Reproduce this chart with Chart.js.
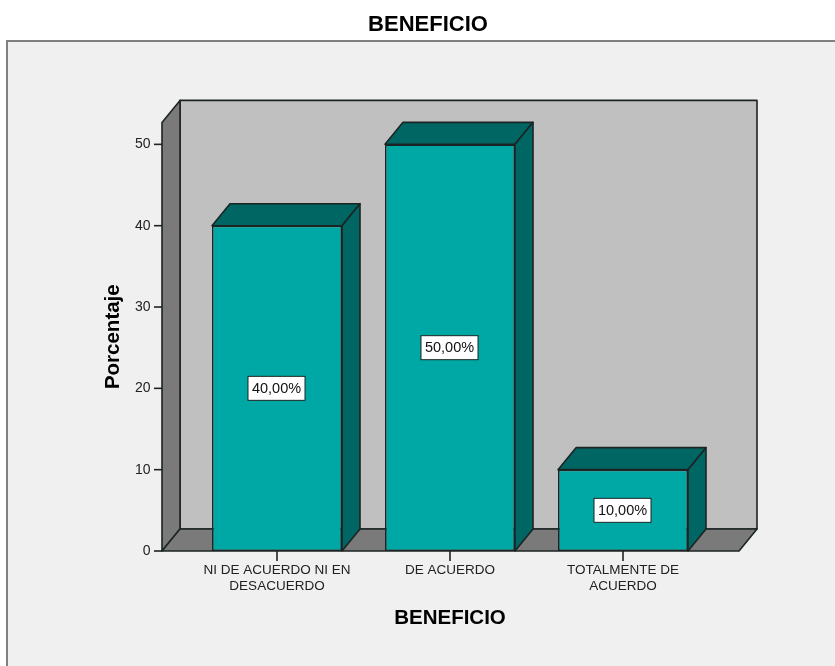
<!DOCTYPE html>
<html>
<head>
<meta charset="utf-8">
<style>
html, body { margin: 0; padding: 0; background: #fff; overflow: hidden; }
canvas { display: block; }
</style>
<script src="https://cdn.jsdelivr.net/npm/chart.js@4"></script>
</head>
<body>
<canvas id="myChart" width="835" height="666"></canvas>
<script>
// datos
const categories = [['NI DE ACUERDO NI EN', 'DESACUERDO'], 'DE ACUERDO', ['TOTALMENTE DE', 'ACUERDO']];
const values = [40, 50, 10];
const yTicks = [0, 10, 20, 30, 40, 50];
const chartTitle = 'BENEFICIO';
const xTitle = 'BENEFICIO';
const yTitle = 'Porcentaje';

// profundidad del efecto 3D
const depthX = 18;
const depthY = 22;
const lineColor = '#1c2424';

function poly(ctx, pts, fill) {
    ctx.beginPath();
    ctx.moveTo(pts[0][0], pts[0][1]);
    pts.slice(1).forEach(p => ctx.lineTo(p[0], p[1]));
    ctx.closePath();
    ctx.fillStyle = fill;
    ctx.fill();
    ctx.strokeStyle = lineColor;
    ctx.lineWidth = 1.6;
    ctx.lineJoin = 'round';
    ctx.stroke();
}

const frame3d = {
    id: 'frame3d',
    beforeDraw(chart) {
        const ctx = chart.ctx;
        ctx.save();
        ctx.fillStyle = '#fff';
        ctx.fillRect(0, 0, 835, 666);
        ctx.fillStyle = '#f0f0f0';
        ctx.fillRect(7, 41, 828, 625);
        ctx.strokeStyle = '#808080';
        ctx.lineWidth = 2;
        ctx.beginPath();
        ctx.moveTo(7, 666);
        ctx.lineTo(7, 41);
        ctx.lineTo(835, 41);
        ctx.stroke();
        ctx.restore();
    },
    beforeDatasetsDraw(chart) {
        const ctx = chart.ctx;
        const x = chart.scales.x;
        const y = chart.scales.y;
        const left = x.left - 28.5;
        const right = x.right + 29.5;
        const bottom = y.getPixelForValue(0);
        const top = y.top;
        ctx.save();
        // paredes
        poly(ctx, [[left + depthX, top - depthY], [right + depthX, top - depthY], [right + depthX, bottom - depthY], [left + depthX, bottom - depthY]], '#c0c0c0');
        poly(ctx, [[left, top], [left + depthX, top - depthY], [left + depthX, bottom - depthY], [left, bottom]], '#7a7a7a');
        poly(ctx, [[left, bottom], [left + depthX, bottom - depthY], [right + depthX, bottom - depthY], [right, bottom]], '#7a7a7a');
        // marcas eje y
        ctx.strokeStyle = lineColor;
        ctx.lineWidth = 1.6;
        yTicks.forEach(v => {
            const py = y.getPixelForValue(v);
            ctx.beginPath();
            ctx.moveTo(left - 8, py);
            ctx.lineTo(left, py);
            ctx.stroke();
        });
        // caras de las barras
        chart.getDatasetMeta(0).data.forEach(bar => {
            const l = bar.x - bar.width / 2;
            const r = bar.x + bar.width / 2;
            poly(ctx, [[l, bar.y], [l + depthX, bar.y - depthY], [r + depthX, bar.y - depthY], [r, bar.y]], '#006663');
            poly(ctx, [[r, bar.y], [r + depthX, bar.y - depthY], [r + depthX, bottom - depthY], [r, bottom]], '#006663');
            // marca eje x
            ctx.beginPath();
            ctx.moveTo(bar.x, bottom);
            ctx.lineTo(bar.x, bottom + 10);
            ctx.stroke();
        });
        ctx.restore();
    },
    afterDatasetsDraw(chart) {
        const ctx = chart.ctx;
        const y = chart.scales.y;
        ctx.save();
        ctx.font = '14.5px "Liberation Sans"';
        ctx.textAlign = 'center';
        ctx.textBaseline = 'middle';
        chart.getDatasetMeta(0).data.forEach((bar, i) => {
            const py = y.getPixelForValue(values[i] / 2);
            ctx.fillStyle = '#fff';
            ctx.fillRect(bar.x - 29, py - 12, 57, 24);
            ctx.strokeStyle = lineColor;
            ctx.lineWidth = 1;
            ctx.strokeRect(bar.x - 29, py - 12, 57, 24);
            ctx.fillStyle = '#111';
            ctx.fillText(values[i].toFixed(2).replace('.', ',') + '%', bar.x - 0.5, py + 0.5);
        });
        ctx.restore();
    }
};

var ctx = document.getElementById('myChart').getContext('2d');

var myChart = new Chart(ctx, {
    type: 'bar',
    data: {
        labels: categories,
        datasets: [{
            data: values,
            backgroundColor: '#00a8a5',
            borderColor: lineColor,
            borderWidth: 1.6,
            borderSkipped: false,
            clip: false,
            categoryPercentage: 1,
            barPercentage: 0.7514
        }]
    },
    plugins: [frame3d],
    options: {
        responsive: false,
        animation: false,
        layout: { padding: { left: 21, right: 0, top: 0, bottom: 0 } },
        plugins: {
            legend: { display: false },
            tooltip: { enabled: false },
            title: {
                display: true,
                text: chartTitle,
                color: '#000',
                font: { family: '"Liberation Sans"', size: 22, weight: 'bold' },
                padding: { top: 12, bottom: 84 }
            }
        },
        scales: {
            x: {
                grid: { display: false },
                border: { display: false },
                ticks: {
                    color: '#222',
                    autoSkip: false,
                    maxRotation: 0,
                    padding: 4,
                    font: { family: '"Liberation Sans"', size: 13.5, lineHeight: 1.15 }
                },
                title: {
                    display: true,
                    text: xTitle,
                    color: '#000',
                    font: { family: '"Liberation Sans"', size: 20.5, weight: 'bold' },
                    padding: { top: 0, bottom: 35 }
                },
                afterFit: s => { s.height = 115; }
            },
            y: {
                min: 0,
                max: 52.7,
                grid: { display: false },
                border: { display: false },
                afterBuildTicks: s => { s.ticks = yTicks.map(v => ({ value: v })); },
                ticks: {
                    color: '#222',
                    padding: 32,
                    font: { family: '"Liberation Sans"', size: 14 }
                },
                title: {
                    display: true,
                    text: yTitle,
                    color: '#000',
                    font: { family: '"Liberation Sans"', size: 20.5, weight: 'bold' },
                    padding: { top: 80, bottom: 0 }
                },
                afterFit: s => { s.width = 169.5; }
            },
            // eje vacio: deja el margen derecho sin mover el titulo
            rightGap: {
                type: 'linear',
                position: 'right',
                display: true,
                grid: { display: false },
                border: { display: false },
                ticks: { display: false },
                afterFit: s => { s.width = 125.5; }
            }
        }
    }
});
</script>
</body>
</html>
